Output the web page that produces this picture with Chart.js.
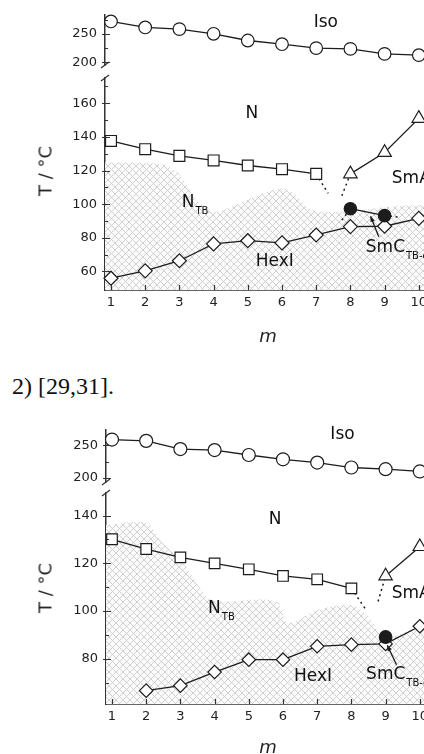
<!DOCTYPE html>
<html>
<head>
<meta charset="utf-8">
<script src="https://cdn.jsdelivr.net/npm/chart.js@4.4.1/dist/chart.umd.min.js"></script>
<style>
html, body { margin: 0; padding: 0; background: #fff; }
#page { position: relative; width: 424px; height: 754px; overflow: hidden; background: #fff;
        font-family: "DejaVu Sans", sans-serif; color: #222; }
#page canvas { position: absolute; }
.ylab { position: absolute; font-size: 18px; white-space: nowrap; transform: translate(-50%, -50%) rotate(-90deg); }
.xlab { position: absolute; font-size: 18px; font-style: italic; transform: translate(-50%, -50%); }
.cap { position: absolute; left: 12px; top: 374px; font-family: "Liberation Serif", serif;
       font-size: 24px; line-height: 24px; color: #111; white-space: nowrap; }
</style>
</head>
<body>
<div id="page">
  <canvas id="aUp" width="408" height="70" style="left:45px;top:5px"></canvas>
  <canvas id="aLow" width="408" height="252" style="left:45px;top:68px"></canvas>
  <div class="ylab" style="left:45px;top:171px">T / °C</div>
  <div class="xlab" style="left:268px;top:335px">m</div>
  <div class="cap">2) [29,31].</div>
  <canvas id="bUp" width="408" height="72" style="left:46px;top:420px"></canvas>
  <canvas id="bLow" width="408" height="251" style="left:46px;top:483px"></canvas>
  <div class="ylab" style="left:45px;top:588px">T / °C</div>
  <div class="xlab" style="left:268px;top:746px">m</div>
</div>
<script>
// number of spacer units m
const m = [1, 2, 3, 4, 5, 6, 7, 8, 9, 10];
const xTicks = [1, 2, 3, 4, 5, 6, 7, 8, 9, 10, 11];

// ---- figure 1 ----
const isoA = [272.5, 261.8, 258.9, 250.5, 238.6, 232.0, 225.0, 223.7, 214.8, 212.5];
const nA   = [137.6, 132.7, 128.7, 126.0, 123.0, 120.8, 118.0, null, null, null];
const smaA = [null, null, null, null, null, null, null, 118.0, 130.7, 151.0];
const smcA = [null, null, null, null, null, null, null, 97.3, 93.2, null];
const hexA = [56.0, 60.4, 66.4, 76.4, 78.3, 77.0, 81.7, 86.7, 86.9, 91.6];
// N_TB region upper edge
const ntbXA = [0.82, 2.4, 2.8, 3.07, 3.4, 3.8, 4.0, 4.4, 5.15, 5.95, 6.3, 6.7, 7.0, 7.7, 8.5, 9.5, 11.0];
const ntbYA = [125, 124, 121, 116, 105, 97.4, 95.2, 97.4, 104, 109.3, 107, 99, 95.8, 95.5, 97, 99, 100];
// dotted phase boundaries
const nTailXA = [7, 7.35],     nTailYA = [118, 106.4];
const smaTailXA = [7.75, 8],   smaTailYA = [105, 118];
const smcTailXA = [7.75, 8],   smcTailYA = [90.5, 97.3];
const smcEndXA = [9, 9.4],     smcEndYA = [93.2, 92.4];
const yTicksUpA = [200, 250];
const yTicksLowA = [60, 80, 100, 120, 140, 160];

// ---- figure 2 ----
const isoB = [258.5, 256.5, 244.0, 242.5, 235.0, 228.5, 223.5, 216.0, 213.5, 210.0];
const nB   = [130.1, 126.0, 122.5, 120.0, 117.5, 114.7, 113.3, 109.5, null, null];
const smaB = [null, null, null, null, null, null, null, null, 114.7, 127.0];
const smcB = [null, null, null, null, null, null, null, null, 89.1, null];
const hexB = [null, 66.6, 68.7, 74.4, 79.6, 79.6, 85.2, 85.9, 86.2, 93.6];
const ntbXB = [0.82, 2.0, 2.4, 3.08, 3.78, 4.16, 5.8, 6.15, 7.0, 8.0, 8.5, 9.0, 10.0, 11.0];
const ntbYB = [136, 137, 129.8, 120, 106, 104, 104, 95, 100.4, 102.5, 97.5, 89, 93.6, 95];
const nTailXB = [8, 8.45],     nTailYB = [109.5, 100];
const smaTailXB = [8.78, 9],   smaTailYB = [104, 114.7];
const yTicksUpB = [200, 250];
const yTicksLowB = [80, 100, 120, 140];

Chart.defaults.font.family = '"DejaVu Sans", sans-serif';
Chart.defaults.color = '#222';
const INK = '#1c1c1c';

function pts(xs, ys) {
  return xs.map((x, i) => ({x: x, y: ys[i]})).filter(p => p.y !== null);
}

function makeHatch() {
  const s = 7;
  const c = document.createElement('canvas');
  c.width = s; c.height = s;
  const g = c.getContext('2d');
  g.fillStyle = '#fbfbfb';
  g.fillRect(0, 0, s, s);
  g.strokeStyle = '#c6c6c6';
  g.lineWidth = 0.8;
  g.beginPath();
  g.moveTo(0, 0); g.lineTo(s, s);
  g.moveTo(s, 0); g.lineTo(0, s);
  g.stroke();
  return g.createPattern(c, 'repeat');
}
const hatch = makeHatch();

function marks(data, style, r, filled) {
  return {
    data: data, showLine: true, borderColor: INK, borderWidth: 1.3,
    pointStyle: style, pointRadius: r, pointBorderColor: INK, pointBorderWidth: 1.2,
    pointBackgroundColor: filled ? INK : '#fff', fill: false, clip: false,
    order: filled ? 0 : 1
  };
}
function dotted(data) {
  return { data: data, showLine: true, borderColor: INK, borderWidth: 1.5, borderDash: [2, 3.5],
           pointRadius: 0, fill: false, clip: false, order: 2 };
}
function region(data) {
  return { data: data, showLine: true, borderColor: 'transparent', borderWidth: 0, pointRadius: 0,
           fill: 'start', backgroundColor: hatch, tension: 0.35, order: 10 };
}

// ticks, axis break, arrows and phase labels
function decor(o) {
  return {
    id: 'decor',
    afterDraw(chart) {
      const ctx = chart.ctx, a = chart.chartArea, x = chart.scales.x, y = chart.scales.y;
      ctx.save();
      ctx.strokeStyle = '#333';
      ctx.fillStyle = '#222';
      ctx.lineWidth = 1.2;
      ctx.beginPath();
      for (let v = o.minorFrom; v <= o.max; v += o.minorStep) {
        const py = Math.round(y.getPixelForValue(v)) + 0.5;
        if (o.yTicks.includes(v)) { ctx.moveTo(a.left - 3, py); ctx.lineTo(a.left + 5, py); }
        else { ctx.moveTo(a.left, py); ctx.lineTo(a.left + 3, py); }
      }
      if (o.xAxis) {
        xTicks.forEach(v => {
          const px = Math.round(x.getPixelForValue(v)) + 0.5;
          ctx.moveTo(px, a.bottom); ctx.lineTo(px, a.bottom - 5);
        });
      }
      const by = o.brk === 'top' ? a.top : a.bottom;
      ctx.moveTo(a.left - 4, by + 3); ctx.lineTo(a.left + 4, by - 3);
      ctx.stroke();

      (o.arrows || []).forEach(ar => {
        const x1 = x.getPixelForValue(ar[0]), y1 = y.getPixelForValue(ar[1]);
        const x2 = x.getPixelForValue(ar[2]), y2 = y.getPixelForValue(ar[3]);
        ctx.strokeStyle = INK; ctx.fillStyle = INK; ctx.lineWidth = 1.3;
        ctx.beginPath(); ctx.moveTo(x1, y1); ctx.lineTo(x2, y2); ctx.stroke();
        const ang = Math.atan2(y2 - y1, x2 - x1), h = 6;
        ctx.beginPath();
        ctx.moveTo(x2, y2);
        ctx.lineTo(x2 - h * Math.cos(ang - 0.4), y2 - h * Math.sin(ang - 0.4));
        ctx.lineTo(x2 - h * Math.cos(ang + 0.4), y2 - h * Math.sin(ang + 0.4));
        ctx.closePath(); ctx.fill();
      });

      ctx.fillStyle = '#111';
      ctx.textBaseline = 'middle';
      ctx.textAlign = 'left';
      o.labels.forEach(l => {
        const px = x.getPixelForValue(l.x), py = y.getPixelForValue(l.y);
        ctx.font = '17px "DejaVu Sans", sans-serif';
        const w = ctx.measureText(l.t).width;
        let sw = 0;
        if (l.sub) {
          ctx.font = '10px "DejaVu Sans", sans-serif';
          sw = ctx.measureText(l.sub).width;
        }
        const left = l.al === 'left' ? px : px - (w + sw) / 2;
        ctx.font = '17px "DejaVu Sans", sans-serif';
        ctx.fillText(l.t, left, py);
        if (l.sub) {
          ctx.font = '10px "DejaVu Sans", sans-serif';
          ctx.fillText(l.sub, left + w + 1, py + 9);
        }
      });
      ctx.restore();
    }
  };
}

function panel(id, o) {
  return new Chart(document.getElementById(id), {
    type: 'line',
    data: { datasets: o.datasets },
    options: {
      responsive: false,
      animation: false,
      events: [],
      layout: { autoPadding: false, padding: { top: 10, bottom: o.xAxis ? 0 : 10, left: 0, right: 0 } },
      plugins: { legend: { display: false }, tooltip: { enabled: false } },
      scales: {
        x: {
          type: 'linear', min: 0.825, max: 11, display: o.xAxis,
          grid: { display: false, drawTicks: false },
          border: { display: true, color: '#333', width: 1.7 },
          ticks: { padding: 5, font: { size: 13 }, color: '#222' },
          afterBuildTicks: s => { s.ticks = xTicks.map(v => ({ value: v })); },
          afterFit: s => {
            if (!o.xAxis) return;
            s.height = 30; s.paddingLeft = 0; s.paddingRight = 0;
          }
        },
        y: {
          type: 'linear', min: o.min, max: o.max,
          grid: { display: false, drawTicks: false },
          border: { display: true, color: '#333', width: 1.5 },
          ticks: { padding: 8, font: { size: 13 }, color: '#222' },
          afterBuildTicks: s => { s.ticks = o.yTicks.map(v => ({ value: v })); },
          afterFit: s => { s.width = 60; s.paddingTop = 0; s.paddingBottom = 0; }
        }
      }
    },
    plugins: [decor(o)]
  });
}

// figure 1, upper (Iso) part
panel('aUp', {
  min: 195, max: 284, yTicks: yTicksUpA, minorFrom: 200, minorStep: 25, xAxis: false, brk: 'bottom',
  datasets: [ marks(pts(m, isoA), 'circle', 6.3, false) ],
  labels: [ { t: 'Iso', x: 7.28, y: 270 } ]
});
// figure 1, lower part
panel('aLow', {
  min: 49, max: 175, yTicks: yTicksLowA, minorFrom: 60, minorStep: 10, xAxis: true, brk: 'top',
  datasets: [
    marks(pts(m, nA), 'rect', 7.7, false),
    marks(pts(m, smaA), 'triangle', 7.8, false),
    marks(pts(m, hexA), 'rectRot', 7, false),
    marks(pts(m, smcA), 'circle', 6.2, true),
    dotted(pts(nTailXA, nTailYA)),
    dotted(pts(smaTailXA, smaTailYA)),
    dotted(pts(smcTailXA, smcTailYA)),
    dotted(pts(smcEndXA, smcEndYA)),
    region(pts(ntbXA, ntbYA))
  ],
  arrows: [ [8.83, 80.7, 8.59, 92.8] ],
  labels: [
    { t: 'N', x: 5.12, y: 154 },
    { t: 'SmA', x: 9.21, y: 115.3, al: 'left' },
    { t: 'N', sub: 'TB', x: 3.07, y: 101.2, al: 'left' },
    { t: 'HexI', x: 5.79, y: 66 },
    { t: 'SmC', sub: 'TB-α', x: 8.45, y: 74.4, al: 'left' }
  ]
});

// figure 2, upper (Iso) part
panel('bUp', {
  min: 194, max: 273, yTicks: yTicksUpB, minorFrom: 200, minorStep: 25, xAxis: false, brk: 'bottom',
  datasets: [ marks(pts(m, isoB), 'circle', 6.5, false) ],
  labels: [ { t: 'Iso', x: 7.74, y: 266 } ]
});
// figure 2, lower part
panel('bLow', {
  min: 61, max: 149.5, yTicks: yTicksLowB, minorFrom: 70, minorStep: 10, xAxis: true, brk: 'top',
  datasets: [
    marks(pts(m, nB), 'rect', 7.5, false),
    marks(pts(m, smaB), 'triangle', 7.7, false),
    marks(pts(m, hexB), 'rectRot', 6.7, false),
    marks(pts(m, smcB), 'circle', 6.3, true),
    dotted(pts(nTailXB, nTailYB)),
    dotted(pts(smaTailXB, smaTailYB)),
    region(pts(ntbXB, ntbYB))
  ],
  arrows: [ [9.32, 77.5, 9.05, 85.6] ],
  labels: [
    { t: 'N', x: 5.77, y: 138.2 },
    { t: 'SmA', x: 9.18, y: 107.4, al: 'left' },
    { t: 'N', sub: 'TB', x: 3.81, y: 101.1, al: 'left' },
    { t: 'HexI', x: 6.88, y: 72.3 },
    { t: 'SmC', sub: 'TB-α', x: 8.43, y: 73.3, al: 'left' }
  ]
});
</script>
</body>
</html>
